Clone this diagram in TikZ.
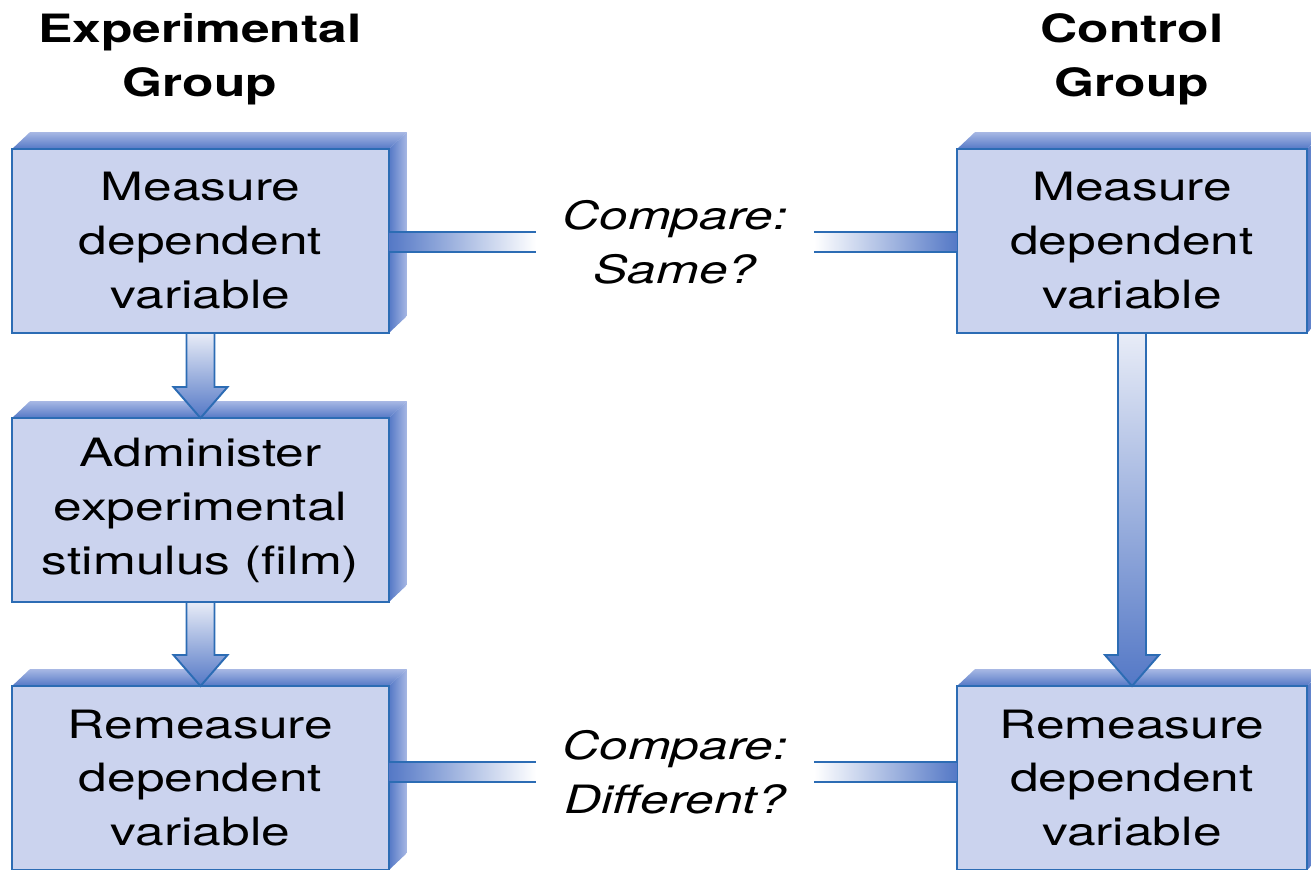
\documentclass[tikz,border=0pt]{standalone}
\usepackage{fontspec}
\newfontfamily\boxfont[FakeStretch=1.32]{TeX Gyre Heros}
\usetikzlibrary{backgrounds}
\definecolor{boxfill}{RGB}{203,211,238}
\definecolor{edgeblue}{RGB}{44,108,180}
\definecolor{sidedark}{RGB}{84,120,198}
\definecolor{sidelight}{RGB}{168,184,228}
\definecolor{arrowpale}{RGB}{232,236,247}
\tikzset{
  stepbox/.style={draw=edgeblue,line width=1.3pt,fill=boxfill,minimum width=7.54cm,
    minimum height=3.68cm,align=center,inner sep=0pt,outer sep=0pt,
    font=\boxfont\fontsize{22.2}{30.7}\selectfont},
  heading/.style={align=center,inner sep=0pt,font=\boxfont\bfseries\fontsize{22.2}{30.7}\selectfont},
  cmplabel/.style={align=center,inner sep=0pt,minimum width=5.56cm,
    font=\boxfont\itshape\fontsize{22.2}{30.7}\selectfont},
  flowarrow/.style={draw=edgeblue,line width=1.1pt,top color=arrowpale,bottom color=sidedark},
  barline/.style={draw=edgeblue,line width=0.8pt}
}
\begin{document}
\begin{tikzpicture}[x=0.02cm,y=-0.02cm]
  \useasboundingbox (0,0) rectangle (1311,869);
  \clip (0,0) rectangle (1311,869);
  %% Headings
  \node[heading] (hexp) at (200,59) {Experimental\\Group};
  \node[heading] (hctl) at (1132,59) {Control\\Group};
  %% Boxes
  \node[stepbox] (em) at (200.5,241) {Measure\\dependent\\variable};
  \node[stepbox] (ea) at (200.5,510) {Administer\\experimental\\stimulus (film)};
  \node[stepbox] (er) at (200.5,778) {Remeasure\\dependent\\variable};
  \node[stepbox,minimum width=7cm] (cm) at (1132,241) {Measure\\dependent\\variable};
  \node[stepbox,minimum width=7cm] (cr) at (1132,778) {Remeasure\\dependent\\variable};
  %% Compare labels
  \node[cmplabel] (cs) at (675,242) {Compare:\\Same?};
  \node[cmplabel] (cd) at (675,772) {Compare:\\Different?};
  %% Depth faces
  \begin{scope}[on background layer]
    \foreach \b in {em,ea,er,cm,cr} {
      \shade[top color=sidelight,bottom color=sidedark] (\b.north west) -- ++(18,-17)
        -- ([shift={(18,-17)}]\b.north east) -- (\b.north east) -- cycle;
      \shade[left color=sidedark,right color=sidelight] (\b.north east) -- ++(18,-17)
        -- ([shift={(18,-17)}]\b.south east) -- (\b.south east) -- cycle;
    }
  \end{scope}
  %% Arrows
  \foreach \a/\b in {em/ea,ea/er,cm/cr} {
    \draw[flowarrow] ([shift={(-14,0)}]\a.south) -- ([shift={(-14,-31)}]\b.north)
      -- ([shift={(-27,-31)}]\b.north) -- (\b.north) -- ([shift={(27,-31)}]\b.north)
      -- ([shift={(14,-31)}]\b.north) -- ([shift={(14,0)}]\a.south) -- cycle;
  }
  %% Compare bars
  \foreach \a/\l/\c in {em/cs/cm,er/cd/cr} {
    \coordinate (ls) at (\a.east |- \l.west);
    \coordinate (rs) at (\c.west |- \l.east);
    \shade[left color=sidedark,right color=white] ([shift={(0,-10)}]ls) rectangle ([shift={(0,10)}]\l.west);
    \shade[left color=white,right color=sidedark] ([shift={(0,-10)}]\l.east) rectangle ([shift={(0,10)}]rs);
    \draw[barline] ([shift={(0,-10)}]ls) -- ([shift={(0,-10)}]\l.west);
    \draw[barline] ([shift={(0,10)}]ls) -- ([shift={(0,10)}]\l.west);
    \draw[barline] ([shift={(0,-10)}]\l.east) -- ([shift={(0,-10)}]rs);
    \draw[barline] ([shift={(0,10)}]\l.east) -- ([shift={(0,10)}]rs);
  }
\end{tikzpicture}
\end{document}
